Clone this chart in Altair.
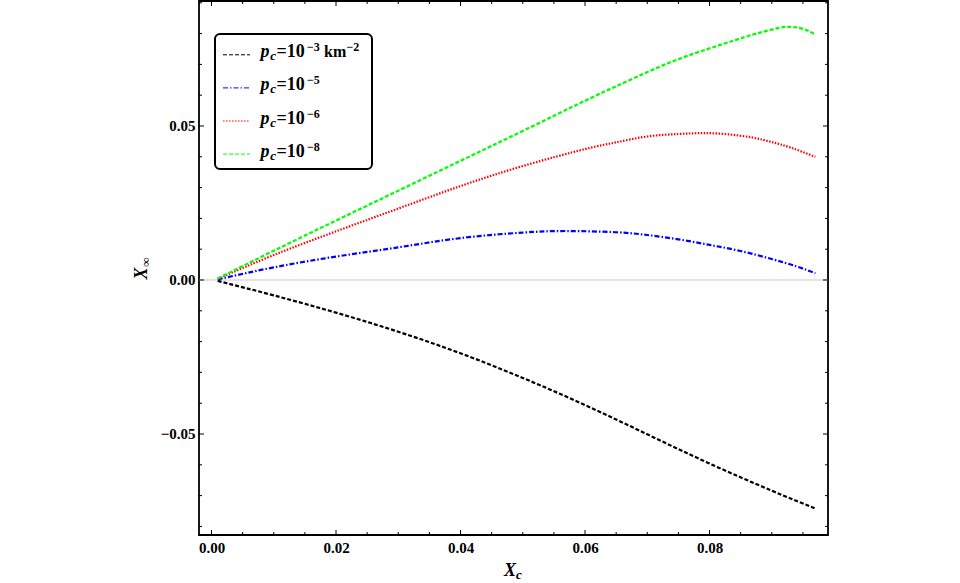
import altair as alt
import pandas as pd

# ---------------- data ----------------
series = ["pc=1e-3", "pc=1e-5", "pc=1e-6", "pc=1e-8"]
exponents = ["\u22123", "\u22125", "\u22126", "\u22128"]
colors = ["#000000", "#0000ff", "#ff0000", "#00ff00"]

x_black = [0.001, 0.01, 0.02, 0.03, 0.04, 0.05, 0.06, 0.07, 0.08, 0.09, 0.097]
y_black = [-0.0003, -0.0050, -0.0106, -0.0168, -0.0238, -0.0318, -0.0406, -0.0501, -0.0596, -0.0684, -0.0742]

x_blue = [0.001, 0.01, 0.02, 0.03, 0.04, 0.05, 0.057, 0.065, 0.07, 0.075, 0.08, 0.085, 0.09, 0.094, 0.097]
y_blue = [0.0002, 0.0041, 0.0076, 0.0106, 0.0136, 0.0154, 0.0159, 0.0155, 0.0146, 0.0132, 0.0114, 0.0094, 0.0068, 0.0044, 0.0022]

x_red = [0.001, 0.01, 0.02, 0.03, 0.04, 0.05, 0.06, 0.065, 0.07, 0.075, 0.079, 0.083, 0.087, 0.09, 0.093, 0.097]
y_red = [0.0004, 0.0081, 0.0158, 0.0232, 0.0305, 0.0370, 0.0425, 0.0447, 0.0466, 0.0474, 0.0477, 0.0473, 0.0462, 0.0448, 0.0430, 0.0400]

x_green = [0.001, 0.01, 0.02, 0.03, 0.04, 0.05, 0.06, 0.065, 0.07, 0.075, 0.08, 0.084, 0.087, 0.089, 0.091, 0.0925, 0.094, 0.0955, 0.097]
y_green = [0.0005, 0.0095, 0.0193, 0.0290, 0.0387, 0.0484, 0.0582, 0.0629, 0.0675, 0.0717, 0.0752, 0.0778, 0.0797, 0.0808, 0.0818, 0.0822, 0.0820, 0.0812, 0.0797]

x_major = [0.0, 0.02, 0.04, 0.06, 0.08]
x_minor = [0.005, 0.01, 0.015, 0.025, 0.03, 0.035, 0.045, 0.05, 0.055,
           0.065, 0.07, 0.075, 0.085, 0.09, 0.095]
y_major = [-0.05, 0.0, 0.05]
y_minor = [-0.08, -0.07, -0.06, -0.04, -0.03, -0.02, -0.01,
           0.01, 0.02, 0.03, 0.04, 0.06, 0.07, 0.08, 0.09]

# ---------------- tables ----------------
frames = []
for name, xs, ys in [(series[0], x_black, y_black), (series[1], x_blue, y_blue),
                     (series[2], x_red, y_red), (series[3], x_green, y_green)]:
    frames.append(pd.DataFrame({"x": xs, "y": ys, "series": name}))
curves_df = pd.concat(frames, ignore_index=True)
legend_df = pd.DataFrame({"series": series, "i": list(range(4)), "exp": exponents})

# ---------------- layout / style ----------------
W, H = 629, 534
FONT = "Liberation Serif"
xscale = alt.Scale(domain=[-0.002008, 0.09903], nice=False, zero=False)
yscale = alt.Scale(domain=[-0.082793, 0.090584], nice=False, zero=False)
xaxis = alt.Axis(values=x_major, format=".2f", ticks=False, domain=False, grid=False,
                 title=None, labelFont=FONT, labelFontWeight="bold", labelFontSize=15,
                 labelColor="black", labelPadding=5)
yaxis = alt.Axis(values=y_major, ticks=False, domain=False, grid=False, title=None,
                 labelExpr="replace(format(datum.value, '.2f'), '-', '\u2212')",
                 labelFont=FONT, labelFontWeight="bold", labelFontSize=15,
                 labelColor="black", labelPadding=4)
color_scale = alt.Scale(domain=series, range=colors)
dash_scale = alt.Scale(domain=series, range=[[4, 2], [5, 2, 1.5, 2], [1.5, 1.5], [4, 2]])


def X(field):
    return alt.X(field, type="quantitative", scale=xscale, axis=xaxis)


def Y(field):
    return alt.Y(field, type="quantitative", scale=yscale, axis=yaxis)


zero_line = alt.Chart(pd.DataFrame({"v": [0.0]})).mark_rule(
    color="#c8c8c8", strokeWidth=1).encode(y=Y("v"))

curves = alt.Chart(curves_df).mark_line(strokeWidth=2.2, interpolate="natural").encode(
    x=X("x"), y=Y("y"),
    color=alt.Color("series:N", scale=color_scale, legend=None),
    strokeDash=alt.StrokeDash("series:N", scale=dash_scale, legend=None),
    detail="series:N",
)


def xticks(vals, length, top):
    c = alt.Chart(pd.DataFrame({"v": vals})).mark_rule(color="black", strokeWidth=1)
    if top:
        return c.encode(x=X("v"), y=alt.value(0), y2=alt.value(length))
    return c.encode(x=X("v"), y=alt.value(H), y2=alt.value(H - length))


def yticks(vals, length, right):
    c = alt.Chart(pd.DataFrame({"v": vals})).mark_rule(color="black", strokeWidth=1)
    if right:
        return c.encode(y=Y("v"), x=alt.value(W), x2=alt.value(W - length))
    return c.encode(y=Y("v"), x=alt.value(0), x2=alt.value(length))


ticks = [xticks(x_major, 5, False), xticks(x_minor, 3, False),
         xticks(x_major, 5, True), xticks(x_minor, 3, True),
         yticks(y_major, 5, False), yticks(y_minor, 3, False),
         yticks(y_major, 5, True), yticks(y_minor, 3, True)]

# ---------------- custom legend (plot-area pixel coords) ----------------
one = pd.DataFrame({"a": [0]})
OX = -199  # page x -> plot x
legend_box = alt.Chart(one).mark_rect(
    fill="white", stroke="black", strokeWidth=2, cornerRadius=5).encode(
    x=alt.value(215 + OX), x2=alt.value(372 + OX), y=alt.value(34 - 1), y2=alt.value(169 - 1))

leg = alt.Chart(legend_df).transform_calculate(
    by="56.3 + datum.i * 33.1", sy="53.8 + datum.i * 33.1")

legend_lines = leg.mark_rule(strokeWidth=1).encode(
    x=alt.value(223 + OX), x2=alt.value(250 + OX),
    y=alt.Y("sy:Q", scale=None, axis=None),
    color=alt.Color("series:N", scale=color_scale, legend=None),
    strokeDash=alt.StrokeDash("series:N", scale=dash_scale, legend=None),
)


def piece(text_kwargs, xpos, dy, size, style="normal"):
    return leg.mark_text(font=FONT, fontWeight="bold", fontStyle=style, fontSize=size,
                         align="left", baseline="alphabetic", color="black",
                         dy=dy, **text_kwargs).encode(
        x=alt.value(xpos + OX), y=alt.Y("by:Q", scale=None, axis=None))


leg_p = piece({"text": "p"}, 260.5, 0, 18, "italic")
leg_c = piece({"text": "c"}, 270.3, 3, 13, "italic")
leg_eq = piece({"text": "=10"}, 276.5, 0, 18)
leg_exp = leg.mark_text(font=FONT, fontWeight="bold", fontSize=12, align="left",
                        baseline="alphabetic", color="black", dy=-6).encode(
    x=alt.value(307 + OX), y=alt.Y("by:Q", scale=None, axis=None), text="exp:N")
leg_km = alt.Chart(one).mark_text(text="km", font=FONT, fontWeight="bold", fontSize=16,
                                  align="left", baseline="alphabetic", color="black").encode(
    x=alt.value(324 + OX), y=alt.value(56.3))
leg_km2 = alt.Chart(one).mark_text(text="\u22122", font=FONT, fontWeight="bold", fontSize=12,
                                   align="left", baseline="alphabetic", color="black").encode(
    x=alt.value(346.5 + OX), y=alt.value(50.3))

# ---------------- axis titles ----------------
xt_X = alt.Chart(one).mark_text(text="X", font=FONT, fontWeight="bold", fontStyle="italic",
                                fontSize=18, align="center", baseline="alphabetic").encode(
    x=alt.value(510 + OX), y=alt.value(576 - 1))
xt_c = alt.Chart(one).mark_text(text="c", font=FONT, fontWeight="bold", fontStyle="italic",
                                fontSize=13, align="left", baseline="alphabetic").encode(
    x=alt.value(516 + OX), y=alt.value(579 - 1))
yt_X = alt.Chart(one).mark_text(text="X", font=FONT, fontWeight="bold", fontStyle="italic",
                                fontSize=18, align="center", baseline="alphabetic",
                                angle=270).encode(
    x=alt.value(147 + OX), y=alt.value(273.5 - 1))
yt_inf = alt.Chart(one).mark_text(text="\u221e", font=FONT, fontWeight="bold",
                                  fontSize=13, align="center", baseline="alphabetic",
                                  angle=270).encode(
    x=alt.value(150 + OX), y=alt.value(262 - 1))

chart = alt.layer(
    zero_line, curves, *ticks,
    legend_box, legend_lines, leg_p, leg_c, leg_eq, leg_exp, leg_km, leg_km2,
    xt_X, xt_c, yt_X, yt_inf,
).properties(
    width=W, height=H,
    autosize=alt.AutoSizeParams(type="none"),
    padding={"left": 199, "top": 1, "right": 132, "bottom": 48},
    background="white",
).configure_view(stroke="black", strokeWidth=1.8)

chart.save("out.html", embed_options={"renderer": "svg", "actions": False})
